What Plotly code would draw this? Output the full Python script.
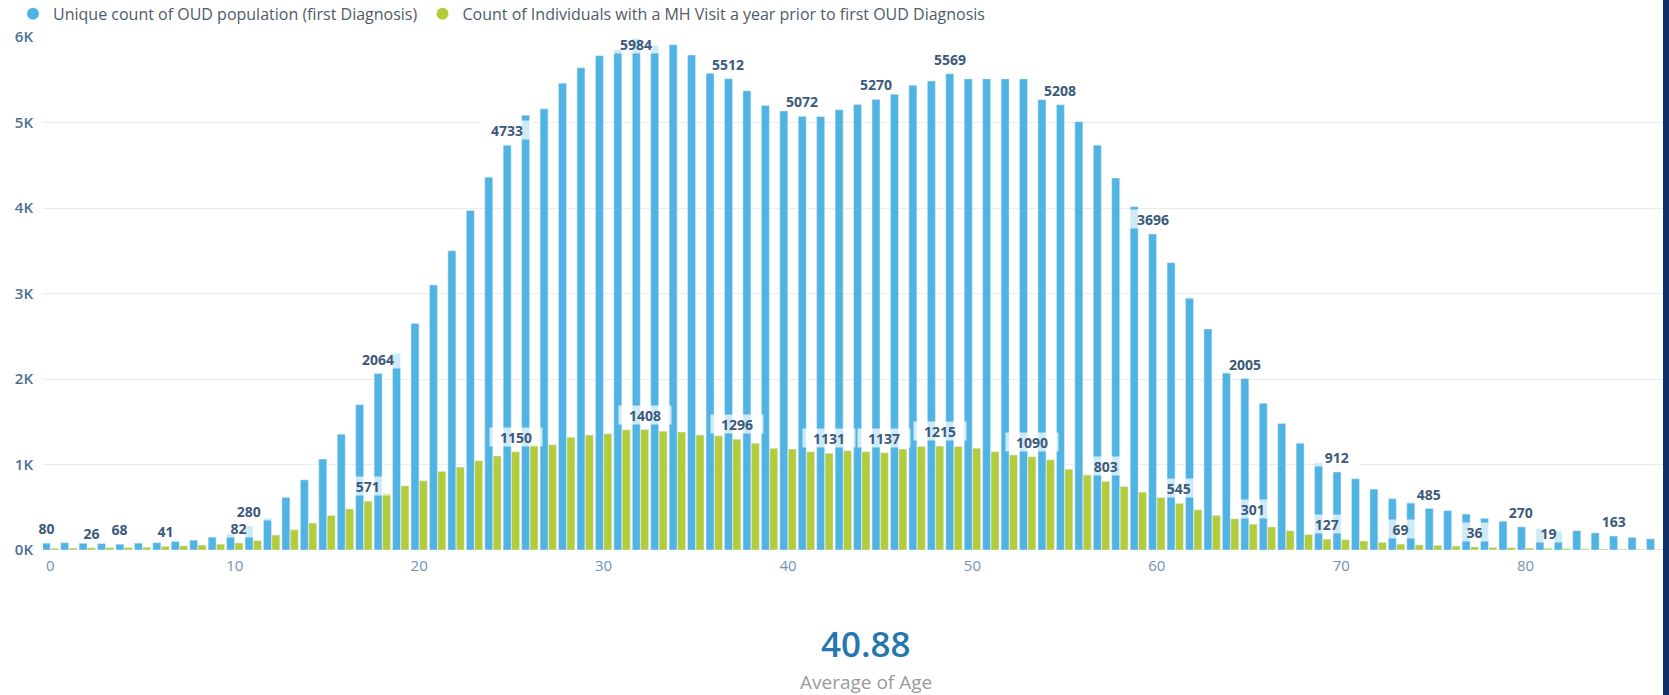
import plotly.graph_objects as go

# ---------------- data ----------------
ages = list(range(0, 88))

oud_population = [
    80, 85, 78, 75, 68, 80, 85, 100, 115, 150,
    190, 280, 374, 615, 820, 1063, 1355, 1700, 2064, 2300,
    2650, 3100, 3500, 3970, 4360, 4733, 5085, 5160, 5460, 5640,
    5780, 5850, 5984, 5900, 5910, 5790, 5580, 5512, 5370, 5200,
    5135, 5072, 5070, 5150, 5210, 5270, 5330, 5435, 5485, 5569,
    5510, 5510, 5510, 5510, 5270, 5208, 5010, 4735, 4350, 4015,
    3696, 3360, 2945, 2585, 2080, 2005, 1715, 1480, 1250, 1020,
    912, 833, 712, 600, 560, 485, 460, 420, 370, 340,
    270, 250, 220, 225, 200, 163, 147, 130,
]

mh_visit = [
    20, 22, 26, 28, 30, 32, 41, 48, 58, 68,
    82, 110, 175, 237, 315, 405, 480, 571, 665, 750,
    810, 920, 970, 1045, 1100, 1150, 1230, 1230, 1320, 1345,
    1360, 1405, 1408, 1390, 1380, 1345, 1335, 1296, 1250, 1190,
    1180, 1150, 1131, 1160, 1150, 1137, 1180, 1210, 1215, 1210,
    1190, 1150, 1110, 1090, 1055, 945, 890, 803, 743, 677,
    615, 545, 470, 405, 365, 301, 270, 225, 180, 127,
    120, 105, 88, 69, 60, 55, 45, 36, 30, 27,
    22, 19, 15, 13, 11, 10, 8, 7,
]

blue_label_ages = [0, 4, 11, 18, 25, 32, 37, 41, 45, 49, 55, 60, 65, 70, 75, 80, 85]
green_label_ages = [2, 6, 10, 17, 25, 32, 37, 42, 45, 48, 53, 57, 61, 65, 69, 73, 77, 81]

series_names = [
    "Unique count of OUD population (first Diagnosis)",
    "Count of Individuals with a MH Visit a year prior to first OUD Diagnosis",
]

x_tick_vals = [0, 10, 20, 30, 40, 50, 60, 70, 80]
y_tick_vals = [0, 1000, 2000, 3000, 4000, 5000, 6000]
y_tick_text = ["0K", "1K", "2K", "3K", "4K", "5K", "6K"]

average_age = 40.88
average_label = "Average of Age"

# ---------------- style ----------------
BLUE = "#4fb3e3"
GREEN = "#b2cc3c"
LABEL_COLOR = "#3b5a7a"
FONT = "Open Sans"

fig = go.Figure()

fig.add_trace(go.Bar(x=ages, y=oud_population, marker_color=BLUE,
                     name=series_names[0], showlegend=False))
fig.add_trace(go.Bar(x=ages, y=mh_visit, marker_color=GREEN,
                     name=series_names[1], showlegend=False))

# legend entries with circle markers
for name, col in zip(series_names, [BLUE, GREEN]):
    fig.add_trace(go.Scatter(x=[None], y=[None], mode="markers",
                             marker=dict(symbol="circle", size=12, color=col),
                             name=name, showlegend=True))

annotations = []
def add_labels(label_ages, values, xshift):
    for a in label_ages:
        v = values[ages.index(a)]
        annotations.append(dict(
            x=a, y=v, xref="x", yref="y", text=f"<b>{v}</b>",
            showarrow=False, xshift=xshift,
            yshift=15 if v < 5800 else -6,
            font=dict(family=FONT, size=14, color=LABEL_COLOR),
            bgcolor="rgba(255,255,255,0.72)", borderpad=0,
            width=8.5 * len(str(v)) + 18, height=18,
        ))

add_labels(blue_label_ages, oud_population, -4.2)
add_labels(green_label_ages, mh_visit, 4.2)

annotations.append(dict(
    x=0.508, y=-0.183, xref="paper", yref="paper", showarrow=False,
    xanchor="center", yanchor="middle",
    text=f"{average_age:.2f}",
    font=dict(family=FONT, size=35, color="#2676b0", weight=600),
))
annotations.append(dict(
    x=0.508, y=-0.257, xref="paper", yref="paper", showarrow=False,
    xanchor="center", yanchor="middle",
    text=average_label, font=dict(family=FONT, size=19, color="#9a9a9a"),
))

fig.update_layout(
    width=1669, height=695,
    margin=dict(l=43, r=6, t=37, b=145, autoexpand=False),
    paper_bgcolor="white", plot_bgcolor="white",
    barmode="group", bargap=0.09, bargroupgap=0.05,
    font=dict(family=FONT),
    legend=dict(orientation="h", x=-0.0185, y=1.045, xanchor="left", yanchor="middle",
                font=dict(family=FONT, size=16, color="#4f5b68"),
                itemwidth=30,
                bgcolor="rgba(0,0,0,0)", traceorder="normal"),
    annotations=annotations,
    shapes=[dict(type="rect", xref="paper", yref="paper",
                 x0=1.0, x1=1.02, y0=-0.3, y1=1.1,
                 fillcolor="#10306a", line=dict(width=0), layer="above")],
    showlegend=True,
)

fig.update_xaxes(range=[-0.4, 87.45], tickvals=x_tick_vals, showgrid=False,
                 zeroline=False, showline=False, ticks="",
                 tickfont=dict(family=FONT, size=15, color="#6f93b6"),
                 ticklabelstandoff=5)
fig.update_yaxes(range=[0, 6000], tickvals=y_tick_vals, ticktext=y_tick_text,
                 showgrid=True, gridcolor="#ececec", gridwidth=1,
                 zeroline=False, showline=False, ticks="",
                 tickfont=dict(family=FONT, size=15, color="#4d6f94", weight=600),
                 ticklabelstandoff=9)

fig.write_html("out.html", config={"displayModeBar": False},
               post_script="document.body.style.margin='0';document.body.style.overflow='hidden';")
